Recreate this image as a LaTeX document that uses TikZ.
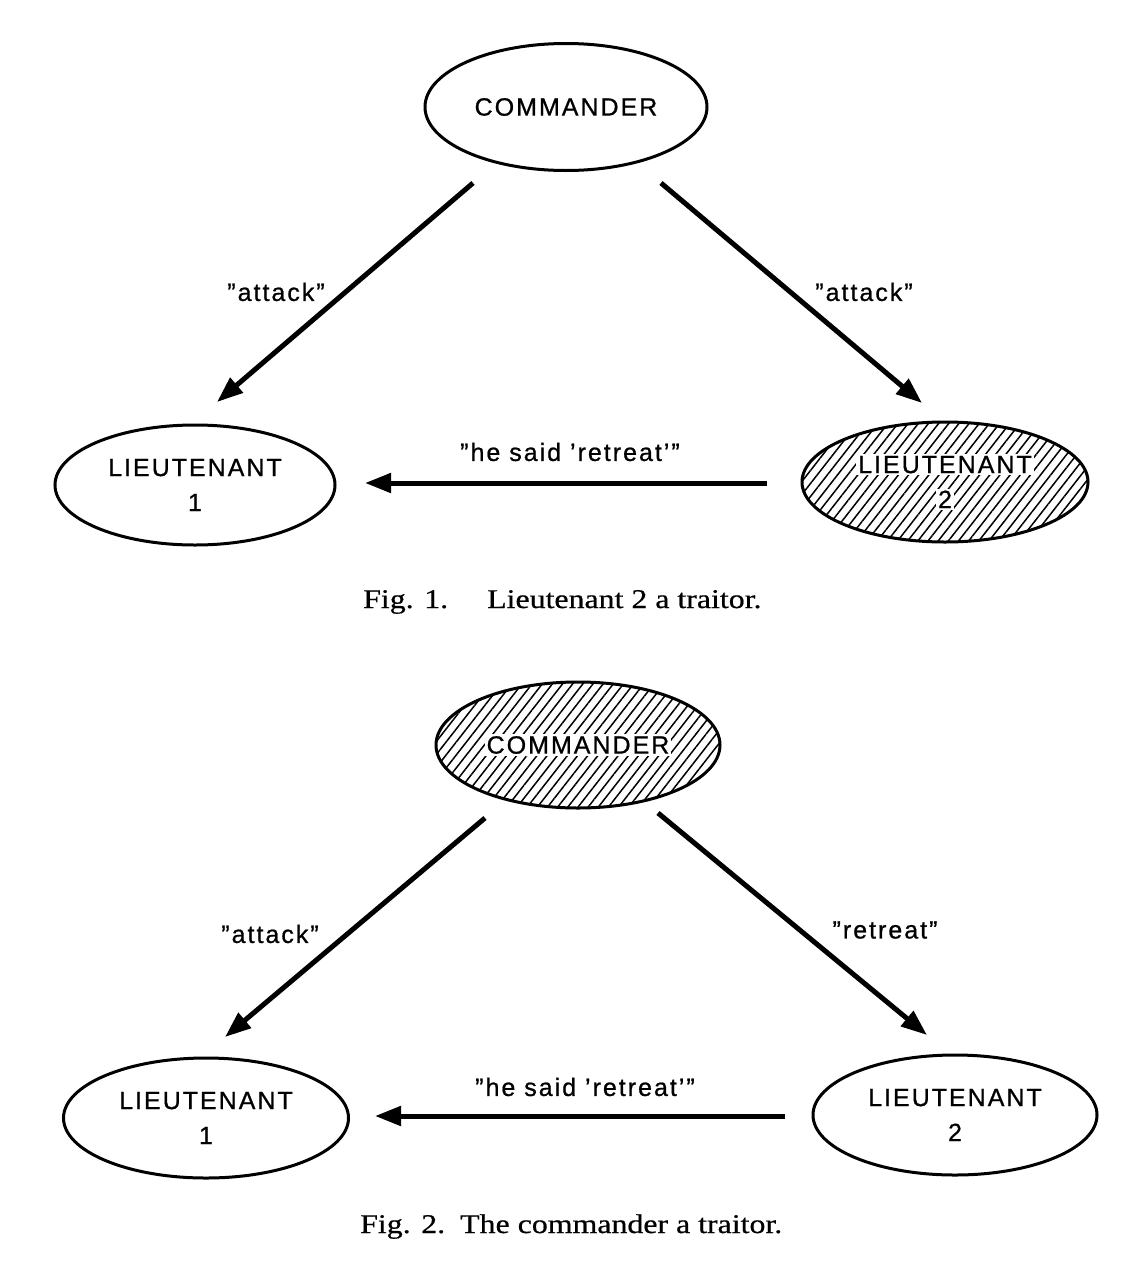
\documentclass[tikz,border=0pt]{standalone}
\usepackage{fontspec}
\setmainfont{Liberation Serif}[FakeStretch=1.18,FakeBold=0.6]
\newfontfamily\labfont{Liberation Sans}[LetterSpace=8,FakeBold=0.8]
\usetikzlibrary{shapes.geometric,arrows.meta,patterns.meta}
\newcommand\wbox[1]{{\fboxsep=2pt\colorbox{white}{#1}}}
\begin{document}
\begin{tikzpicture}[x=1pt,y=-1pt,
  ell/.style={ellipse,draw,line width=3pt,inner sep=0pt,align=center,
    font=\labfont\fontsize{25}{35}\selectfont},
  traitor/.style={ell,pattern={Lines[angle=52,distance=8pt,line width=1.5pt]}},
  msg/.style={-{Triangle[length=26pt,width=19pt]},line width=5pt},
  lbl/.style={font=\labfont\fontsize{25}{29}\selectfont,inner sep=0pt},
  figcap/.style={font=\fontsize{27}{32}\selectfont,inner sep=0pt,anchor=base west}]
\useasboundingbox[fill=white] (0,0) rectangle (1148,1274);

% ---------- Fig. 1 ----------
\node[ell,minimum width=282pt,minimum height=127pt] (c1) at (566,107) {\wbox{COMMANDER}};
\node[ell,minimum width=280pt,minimum height=120pt] (la1) at (195,485) {\wbox{LIEUTENANT}\\\wbox{1}};
\node[traitor,minimum width=286pt,minimum height=120pt] (lb1) at (945,482) {\wbox{LIEUTENANT}\\\wbox{2}};

\coordinate (c1s1) at (473,183); \coordinate (c1e1) at (217,402);
\coordinate (c1s2) at (661,183); \coordinate (c1e2) at (922,403);
\coordinate (h1s) at (767,483);  \coordinate (h1e) at (365,483);
\draw[msg] (c1s1) -- (c1e1);
\draw[msg] (c1s2) -- (c1e2);
\draw[msg] (h1s) -- (h1e);

\node[lbl] (t1a) at (276,292) {”attack”};
\node[lbl] (t1b) at (864,292) {”attack”};
\node[lbl] (t1c) at (570,452) {”he said ’retreat’”};

\node[figcap] (f1a) at (363,608) {Fig. 1.};
\node[figcap] (f1b) at (487,608) {Lieutenant 2 a traitor.};

% ---------- Fig. 2 ----------
\node[traitor,minimum width=284pt,minimum height=126pt] (c2) at (578,745) {\wbox{COMMANDER}};
\node[ell,minimum width=285pt,minimum height=120pt] (la2) at (206,1118) {\wbox{LIEUTENANT}\\\wbox{1}};
\node[ell,minimum width=284pt,minimum height=120pt] (lb2) at (955,1115) {\wbox{LIEUTENANT}\\\wbox{2}};

\coordinate (c2s1) at (485,818); \coordinate (c2e1) at (225,1037);
\coordinate (c2s2) at (658,813); \coordinate (c2e2) at (927,1035);
\coordinate (h2s) at (785,1116); \coordinate (h2e) at (375,1116);
\draw[msg] (c2s1) -- (c2e1);
\draw[msg] (c2s2) -- (c2e2);
\draw[msg] (h2s) -- (h2e);

\node[lbl] (t2a) at (270,934) {”attack”};
\node[lbl] (t2b) at (885,930) {”retreat”};
\node[lbl] (t2c) at (585,1087) {”he said ’retreat’”};

\node[figcap] (f2a) at (360,1233) {Fig. 2.};
\node[figcap] (f2b) at (460,1233) {The commander a traitor.};
\end{tikzpicture}
\end{document}
